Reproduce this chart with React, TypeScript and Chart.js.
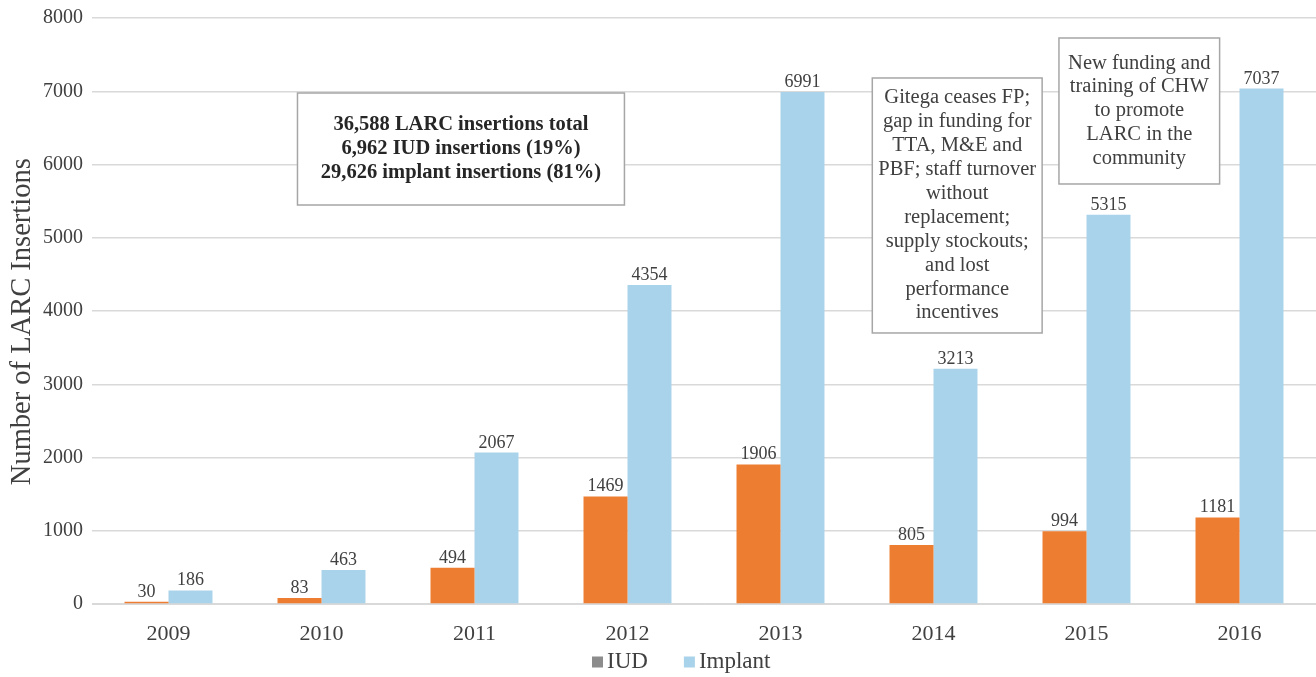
import React, { useEffect, useRef } from "react";
import { Chart, registerables } from "chart.js";

Chart.register(...registerables);

const years = ["2009", "2010", "2011", "2012", "2013", "2014", "2015", "2016"];
const iudValues = [30, 83, 494, 1469, 1906, 805, 994, 1181];
const implantValues = [186, 463, 2067, 4354, 6991, 3213, 5315, 7037];
const yTicks = [0, 1000, 2000, 3000, 4000, 5000, 6000, 7000, 8000];
const legendNames = ["IUD", "Implant"];
const yTitle = "Number of LARC Insertions";

const summaryLines = [
  "36,588 LARC insertions total",
  "6,962 IUD insertions (19%)",
  "29,626 implant insertions (81%)",
];
const gitegaLines = [
  "Gitega ceases FP;",
  "gap in funding for",
  "TTA, M&E and",
  "PBF; staff turnover",
  "without",
  "replacement;",
  "supply stockouts;",
  "and lost",
  "performance",
  "incentives",
];
const fundingLines = [
  "New funding and",
  "training of CHW",
  "to promote",
  "LARC in the",
  "community",
];

const FONT = "'Liberation Serif', 'Times New Roman', serif";
const TEXT = "#404040";
const ORANGE = "#ED7D31";
const BLUE = "#A9D3EA";
const LEGEND_IUD = "#8C8C8C";
const GRID = "#D9D9D9";

// Annotation boxes anchored in data space (x: category index, y: value)
const notes = [
  { x0: 0.843, x1: 2.98, y0: 6976, y1: 5447, lines: summaryLines, bold: true },
  { x0: 4.6, x1: 5.71, y0: 7181, y1: 3700, lines: gitegaLines, bold: false },
  { x0: 5.82, x1: 6.87, y0: 7727, y1: 5734, lines: fundingLines, bold: false },
];

const valueLabels = {
  id: "valueLabels",
  afterDatasetsDraw(chart: any) {
    const ctx = chart.ctx;
    ctx.save();
    ctx.font = `18px ${FONT}`;
    ctx.fillStyle = TEXT;
    ctx.textAlign = "center";
    ctx.textBaseline = "alphabetic";
    chart.data.datasets.forEach((ds: any, di: number) => {
      const meta = chart.getDatasetMeta(di);
      meta.data.forEach((bar: any, i: number) => {
        ctx.fillText(String(ds.data[i]), bar.x, bar.y - 5);
      });
    });
    ctx.restore();
  },
};

const noteBoxes = {
  id: "noteBoxes",
  afterDraw(chart: any) {
    const ctx = chart.ctx;
    const xs = chart.scales.x;
    const ys = chart.scales.y;
    ctx.save();
    notes.forEach((n) => {
      const left = xs.getPixelForValue(n.x0);
      const right = xs.getPixelForValue(n.x1);
      const top = ys.getPixelForValue(n.y0);
      const bottom = ys.getPixelForValue(n.y1);
      ctx.fillStyle = "#FFFFFF";
      ctx.fillRect(left, top, right - left, bottom - top);
      ctx.strokeStyle = "#A6A6A6";
      ctx.lineWidth = 1.5;
      ctx.strokeRect(left, top, right - left, bottom - top);
      ctx.fillStyle = n.bold ? "#262626" : TEXT;
      ctx.font = `${n.bold ? "bold " : ""}20.5px ${FONT}`;
      ctx.textAlign = "center";
      ctx.textBaseline = "middle";
      const lh = 23.9;
      const cx = (left + right) / 2;
      const cy = (top + bottom) / 2;
      const start = cy - ((n.lines.length - 1) * lh) / 2;
      n.lines.forEach((line, i) => ctx.fillText(line, cx, start + i * lh));
    });
    ctx.restore();
  },
};

const customLegend = {
  id: "customLegend",
  afterDraw(chart: any) {
    const ctx = chart.ctx;
    const area = chart.chartArea;
    const colors = [LEGEND_IUD, BLUE];
    ctx.save();
    ctx.font = `23px ${FONT}`;
    ctx.fillStyle = TEXT;
    ctx.textBaseline = "middle";
    ctx.textAlign = "left";
    const y = area.bottom + 58;
    let x = area.left + 500;
    legendNames.forEach((name, i) => {
      ctx.fillStyle = colors[i];
      ctx.fillRect(x, y - 5.5, 11, 11);
      ctx.fillStyle = TEXT;
      ctx.fillText(name, x + 15, y);
      x += 15 + ctx.measureText(name).width + 36;
    });
    ctx.restore();
  },
};

export default function App() {
  const ref = useRef<HTMLCanvasElement>(null);
  useEffect(() => {
    document.body.style.margin = "0";
    const chart = new Chart(ref.current as HTMLCanvasElement, {
      type: "bar",
      data: {
        labels: years,
        datasets: [
          { label: legendNames[0], data: iudValues, backgroundColor: ORANGE, barPercentage: 1, categoryPercentage: 0.575 },
          { label: legendNames[1], data: implantValues, backgroundColor: BLUE, barPercentage: 1, categoryPercentage: 0.575 },
        ],
      },
      options: {
        animation: false,
        responsive: false,
        layout: { padding: { top: 18, right: 0, left: 0, bottom: 0 } },
        plugins: {
          tooltip: { enabled: false },
          legend: { display: false },
        },
        scales: {
          x: {
            grid: { display: false },
            border: { display: true, color: GRID },
            ticks: { font: { family: FONT, size: 22 }, color: TEXT, padding: 9 },
            afterFit: (s: any) => { s.height = 73; },
          },
          y: {
            min: 0,
            max: 8000,
            afterBuildTicks: (s: any) => { s.ticks = yTicks.map((v) => ({ value: v })); },
            grid: { color: GRID, lineWidth: 1.5, drawTicks: false },
            border: { display: false },
            ticks: {
              font: { family: FONT, size: 20 },
              color: TEXT,
              padding: 9,
              callback: (v: any) => String(v),
            },
            title: {
              display: true,
              text: yTitle + "   ",
              font: { family: FONT, size: 28.5 },
              color: TEXT,
              padding: { top: 5, bottom: 0 },
            },
            afterFit: (s: any) => {
              s.width = 92;
              s.paddingTop = 0;
              s.paddingBottom = 0;
            },
          },
        },
      },
      plugins: [valueLabels, noteBoxes, customLegend],
    });
    return () => chart.destroy();
  }, []);
  return <canvas ref={ref} width={1316} height={677} style={{ display: "block", width: 1316, height: 677 }} />;
}
